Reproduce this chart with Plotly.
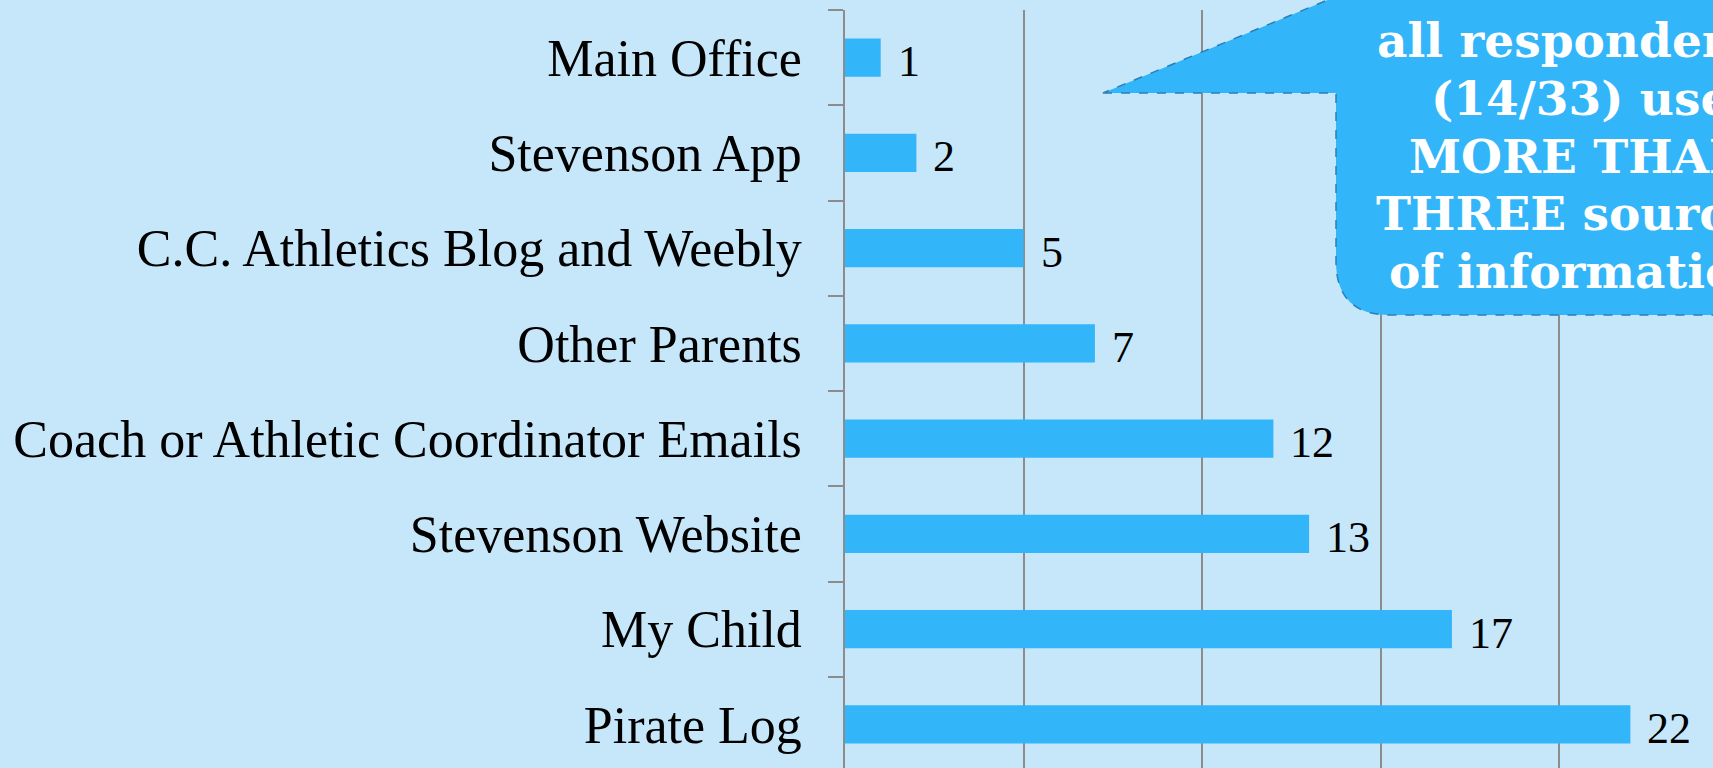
import plotly.graph_objects as go

# Data (top-to-bottom order as shown)
categories = ["Main Office", "Stevenson App", "C.C. Athletics Blog and Weebly",
              "Other Parents", "Coach or Athletic Coordinator Emails",
              "Stevenson Website", "My Child", "Pirate Log"]
values = [1, 2, 5, 7, 12, 13, 17, 22]
callout_lines = ["all respondents", "(14/33) use", "MORE THAN",
                 "THREE sources", "of information"]

# bottom-to-top for plotly's y axis
cats_bt = categories[::-1]
vals_bt = values[::-1]

W, H = 1713, 768
L, T = 845, 10
BG = "#C6E7FA"
BAR = "#33B5FA"
GRID = "#8C8C8C"

fig = go.Figure()
fig.add_trace(go.Bar(
    y=cats_bt, x=vals_bt, orientation="h",
    marker=dict(color=BAR, line=dict(width=0)),
    width=0.4, hoverinfo="x+y",
))

# value labels
for c, v in zip(cats_bt, vals_bt):
    fig.add_annotation(x=v, y=c, xref="x", yref="y", text=str(v),
                       showarrow=False, xanchor="left", yanchor="middle",
                       xshift=15, yshift=-4,
                       font=dict(family="Liberation Serif", size=44, color="black"))

# pixel -> paper helpers (paper relative to plot area)
pw = W - L
ph = H - T
def px(x):
    return (x - L) / pw
def py(y):
    return (H - y) / ph

# callout shape
r = 54
path = (f"M {px(1103)},{py(93)} L {px(1336)},{py(93)} L {px(1336)},{py(315 - r)} "
        f"Q {px(1336)},{py(315)} {px(1336 + r)},{py(315)} L {px(1730)},{py(315)} "
        f"L {px(1730)},{py(-10)} L {px(1332)},{py(-10)} L {px(1330)},{py(-1)} Z")
fig.add_shape(type="path", path=path, xref="paper", yref="paper",
              fillcolor=BAR, line=dict(color="#2A7FB8", width=1.5, dash="dash"),
              layer="above")

baselines = [55, 112.5, 170, 227.5, 285]
for txt, b in zip(callout_lines, baselines):
    fig.add_annotation(x=px(1580), y=py(b - 14), xref="paper", yref="paper",
                       text=f"<b>{txt}</b>", showarrow=False,
                       xanchor="center", yanchor="middle",
                       font=dict(family="DejaVu Serif", size=47, color="white"))

xmax = (W - L) / ((1559 - 845) / 20)

fig.update_layout(
    width=W, height=H,
    margin=dict(l=L, r=0, t=T, b=0, pad=0),
    paper_bgcolor=BG, plot_bgcolor=BG,
    showlegend=False,
    xaxis=dict(range=[0, xmax], dtick=5, showgrid=True, gridcolor=GRID,
               gridwidth=1.5, zeroline=False, showticklabels=False,
               showline=False, fixedrange=True),
    yaxis=dict(categoryorder="array", categoryarray=cats_bt,
               range=[-0.458, 7.5], showline=True, linecolor=GRID, linewidth=1.5,
               ticks="outside", tickson="boundaries", ticklen=15,
               tickcolor=GRID, tickwidth=1.5, showgrid=False,
               ticklabelstandoff=31,
               tickfont=dict(family="Liberation Serif", size=52, color="black"),
               fixedrange=True),
)

fig.write_html("out.html", config={"displayModeBar": False},
               post_script="document.body.style.margin='0';document.body.style.overflow='hidden';")
